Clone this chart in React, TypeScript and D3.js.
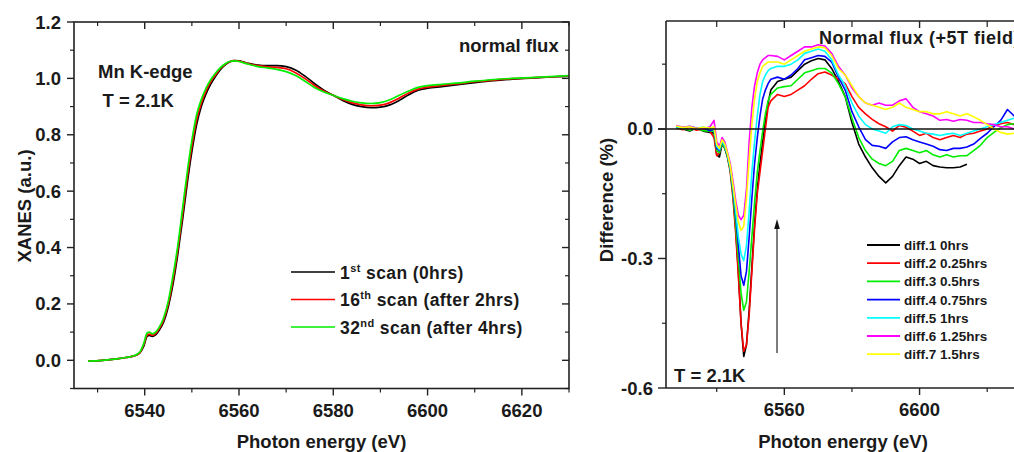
import React from "react";
import * as d3 from "d3";

const FONT = "'Liberation Sans', Arial, Helvetica, sans-serif";

// ---------------- Left panel data (XANES) ----------------
const energyL = [6528, 6531, 6534, 6536, 6538, 6539, 6539.8, 6540.5, 6541, 6541.6, 6542.3, 6543, 6544, 6545, 6546, 6547, 6548, 6549, 6550, 6551, 6552, 6553, 6554, 6555, 6556, 6557, 6558, 6559, 6560, 6561, 6562, 6564, 6566, 6568, 6570, 6572, 6574, 6576, 6578, 6580, 6582, 6584, 6586, 6588, 6590, 6592, 6594, 6596, 6598, 6600, 6603, 6606, 6610, 6614, 6618, 6622, 6626, 6630];
const scan1 = [-0.003, 0.0, 0.005, 0.01, 0.017, 0.027, 0.05, 0.085, 0.088, 0.085, 0.09, 0.105, 0.135, 0.19, 0.27, 0.375, 0.495, 0.625, 0.74, 0.835, 0.9, 0.945, 0.98, 1.007, 1.03, 1.047, 1.058, 1.063, 1.062, 1.058, 1.053, 1.047, 1.045, 1.045, 1.042, 1.03, 1.008, 0.982, 0.958, 0.94, 0.922, 0.908, 0.9, 0.896, 0.898, 0.906, 0.922, 0.942, 0.958, 0.965, 0.971, 0.977, 0.985, 0.992, 0.997, 1.001, 1.005, 1.008];
const scan16 = [-0.003, 0.0, 0.005, 0.01, 0.017, 0.028, 0.055, 0.09, 0.093, 0.089, 0.095, 0.11, 0.142, 0.2, 0.285, 0.39, 0.515, 0.645, 0.76, 0.852, 0.912, 0.955, 0.988, 1.012, 1.034, 1.049, 1.059, 1.063, 1.061, 1.057, 1.052, 1.045, 1.041, 1.039, 1.034, 1.02, 0.999, 0.975, 0.955, 0.94, 0.925, 0.913, 0.906, 0.903, 0.905, 0.914, 0.93, 0.948, 0.962, 0.969, 0.975, 0.98, 0.988, 0.994, 0.999, 1.002, 1.005, 1.009];
const scan32 = [-0.003, 0.0, 0.005, 0.01, 0.018, 0.03, 0.06, 0.097, 0.1, 0.094, 0.1, 0.115, 0.15, 0.21, 0.3, 0.405, 0.535, 0.665, 0.78, 0.87, 0.925, 0.965, 0.995, 1.018, 1.037, 1.051, 1.06, 1.062, 1.06, 1.055, 1.05, 1.042, 1.037, 1.032, 1.024, 1.01, 0.99, 0.968, 0.952, 0.94, 0.928, 0.919, 0.913, 0.911, 0.914, 0.924, 0.94, 0.955, 0.968, 0.974, 0.979, 0.983, 0.99, 0.996, 1.0, 1.003, 1.006, 1.01];

const leftSeries = [
  { sup: "st", num: "1", rest: " scan (0hrs)", color: "#000000", values: scan1 },
  { sup: "th", num: "16", rest: " scan (after 2hrs)", color: "#ff0000", values: scan16 },
  { sup: "nd", num: "32", rest: " scan (after 4hrs)", color: "#00ee00", values: scan32 },
];
const leftXTicks = [6540, 6560, 6580, 6600, 6620];
const leftYTicks = [0.0, 0.2, 0.4, 0.6, 0.8, 1.0, 1.2];

// ---------------- Right panel data (difference, %) ----------------
const energyR = [6528, 6530, 6532, 6534, 6536, 6538, 6539.2, 6540, 6540.8, 6541.6, 6542.4, 6543.2, 6544, 6544.8, 6545.6, 6546.4, 6547.2, 6548, 6548.8, 6549.6, 6550.4, 6551.2, 6552, 6552.8, 6553.6, 6554.4, 6555.2, 6556, 6558, 6560, 6562, 6564, 6566, 6568, 6570, 6572, 6574, 6576, 6578, 6580, 6582, 6584, 6586, 6588, 6590, 6592, 6594, 6596, 6598, 6600, 6602, 6604, 6606, 6608, 6610, 6612, 6614, 6616, 6618, 6620, 6622, 6624, 6626, 6628, 6630];
// diff.1 ends at 6614 eV in the reference
const diff1 = [0.005, 0.0, -0.005, 0.002, -0.005, -0.008, -0.01, -0.06, -0.065, -0.035, -0.045, -0.065, -0.095, -0.15, -0.23, -0.33, -0.45, -0.527, -0.5, -0.42, -0.32, -0.22, -0.14, -0.08, -0.03, 0.02, 0.06, 0.09, 0.11, 0.115, 0.12, 0.135, 0.15, 0.158, 0.163, 0.16, 0.14, 0.11, 0.075, 0.015, -0.035, -0.065, -0.09, -0.11, -0.125, -0.11, -0.085, -0.065, -0.07, -0.08, -0.075, -0.085, -0.088, -0.09, -0.09, -0.088, -0.082];
const diff2 = [0.003, -0.002, 0.004, -0.003, 0.0, -0.006, -0.02, -0.062, -0.055, -0.034, -0.045, -0.065, -0.1, -0.16, -0.24, -0.34, -0.45, -0.515, -0.5, -0.43, -0.33, -0.23, -0.15, -0.1, -0.05, 0.0, 0.05, 0.065, 0.08, 0.075, 0.08, 0.09, 0.1, 0.115, 0.128, 0.132, 0.125, 0.115, 0.105, 0.075, 0.05, 0.035, 0.022, 0.012, 0.005, -0.005, 0.008, 0.004, -0.005, -0.015, -0.01, -0.02, -0.025, -0.02, -0.015, -0.02, -0.012, -0.01, -0.005, 0.0, 0.008, 0.012, 0.015, 0.01, 0.012];
const diff3 = [0.004, 0.001, -0.003, 0.002, -0.004, -0.005, -0.005, -0.05, -0.055, -0.033, -0.045, -0.065, -0.095, -0.15, -0.22, -0.3, -0.38, -0.42, -0.4, -0.33, -0.25, -0.17, -0.1, -0.05, -0.005, 0.035, 0.065, 0.08, 0.095, 0.098, 0.1, 0.115, 0.13, 0.135, 0.14, 0.14, 0.13, 0.105, 0.075, 0.025, -0.02, -0.05, -0.07, -0.08, -0.085, -0.075, -0.05, -0.045, -0.05, -0.055, -0.05, -0.06, -0.065, -0.06, -0.065, -0.062, -0.062, -0.05, -0.038, -0.02, -0.008, 0.003, 0.01, 0.012, 0.015];
const diff4 = [0.006, 0.002, 0.005, 0.0, 0.003, -0.004, 0.0, -0.045, -0.05, -0.03, -0.04, -0.062, -0.09, -0.14, -0.2, -0.27, -0.34, -0.362, -0.33, -0.25, -0.16, -0.08, -0.02, 0.03, 0.07, 0.09, 0.105, 0.115, 0.12, 0.115, 0.125, 0.14, 0.16, 0.165, 0.17, 0.168, 0.155, 0.12, 0.09, 0.04, 0.005, -0.025, -0.038, -0.04, -0.045, -0.03, -0.02, -0.018, -0.025, -0.03, -0.035, -0.04, -0.048, -0.05, -0.045, -0.045, -0.042, -0.035, -0.022, -0.01, 0.005, 0.02, 0.045, 0.03, 0.02];
const diff5 = [0.005, 0.003, 0.006, 0.002, 0.004, 0.0, 0.0, -0.04, -0.048, -0.028, -0.04, -0.06, -0.09, -0.135, -0.19, -0.25, -0.29, -0.305, -0.27, -0.19, -0.1, -0.03, 0.03, 0.08, 0.11, 0.125, 0.135, 0.14, 0.145, 0.145, 0.15, 0.16, 0.175, 0.18, 0.185, 0.18, 0.16, 0.125, 0.1, 0.06, 0.03, 0.01, 0.0, -0.005, -0.01, 0.005, 0.01, 0.008, 0.0, -0.005, -0.01, -0.012, -0.015, -0.012, -0.01, -0.015, -0.01, -0.005, 0.0, 0.005, 0.01, 0.015, 0.02, 0.025, 0.02];
const diff6 = [0.008, 0.004, 0.006, 0.002, 0.0, 0.005, 0.02, -0.03, -0.04, -0.02, -0.03, -0.055, -0.08, -0.12, -0.165, -0.2, -0.21, -0.2, -0.14, -0.03, 0.05, 0.1, 0.13, 0.15, 0.16, 0.165, 0.17, 0.17, 0.168, 0.16, 0.17, 0.18, 0.19, 0.19, 0.195, 0.192, 0.175, 0.145, 0.125, 0.095, 0.075, 0.06, 0.055, 0.06, 0.055, 0.055, 0.065, 0.07, 0.05, 0.04, 0.035, 0.03, 0.02, 0.022, 0.018, 0.022, 0.02, 0.015, 0.015, 0.012, 0.01, 0.005, 0.005, 0.0, 0.005];
const diff7 = [0.007, 0.003, 0.005, 0.001, 0.004, 0.002, 0.005, -0.035, -0.045, -0.025, -0.035, -0.058, -0.085, -0.13, -0.175, -0.215, -0.235, -0.225, -0.16, -0.07, 0.01, 0.07, 0.11, 0.13, 0.145, 0.15, 0.155, 0.155, 0.155, 0.15, 0.16, 0.17, 0.18, 0.185, 0.19, 0.188, 0.17, 0.14, 0.125, 0.1, 0.075, 0.06, 0.055, 0.05, 0.045, 0.05, 0.06, 0.05, 0.045, 0.04, 0.04, 0.035, 0.035, 0.04, 0.035, 0.03, 0.035, 0.028, 0.02, 0.01, 0.0, -0.008, -0.012, -0.01, -0.012];

const rightSeries = [
  { name: "diff.1 0hrs", color: "#000000", values: diff1 },
  { name: "diff.2 0.25hrs", color: "#ff0000", values: diff2 },
  { name: "diff.3 0.5hrs", color: "#00ee00", values: diff3 },
  { name: "diff.4 0.75hrs", color: "#0000ff", values: diff4 },
  { name: "diff.5 1hrs", color: "#00ffff", values: diff5 },
  { name: "diff.6 1.25hrs", color: "#ff00ff", values: diff6 },
  { name: "diff.7 1.5hrs", color: "#ffff00", values: diff7 },
];
const rightXTicks = [6560, 6600];
const rightYTicks = [0.0, -0.3, -0.6];

const fmt = (v: number) => d3.format(".1f")(v).replace("\u2212", "-");

export default function App() {
  const xL = d3.scaleLinear().domain([6525, 6630]).range([74, 569]);
  const yL = d3.scaleLinear().domain([-0.1, 1.2]).range([388.5, 22]);
  const xR = d3.scaleLinear().domain([6525, 6630]).range([666, 1021]);
  const yR = d3.scaleLinear().domain([-0.6, 0.25]).range([388, 21]);

  const lineL = (vals: number[]) =>
    d3.line<number>().x((_, i) => xL(energyL[i])).y((d) => yL(d)).curve(d3.curveMonotoneX)(vals) || "";
  const lineR = (vals: number[]) =>
    d3.line<number>().x((_, i) => xR(energyR[i])).y((d) => yR(d)).curve(d3.curveLinear)(vals) || "";

  const lMinorX = xL.ticks(10).filter((t) => !leftXTicks.includes(t));
  const lMinorY = yL.ticks(13).filter((t) => !leftYTicks.some((m) => Math.abs(m - t) < 1e-6));
  const rMinorX = [6540, 6580, 6620];
  const rMinorY = [0.15, -0.15, -0.45];

  const axisColor = "#222";
  const tickLabel = { fontFamily: FONT, fontWeight: 700, fontSize: 18.5, fill: "#1a1a1a" } as const;

  const lx0 = 74, lx1 = 569;
  const ly0 = 388.5, ly1 = 22;
  const rx0 = 666, rx1 = 1021, ry0 = 388, ry1 = 21;

  return (
    <svg width={1014} height={452} style={{ position: "absolute", left: 0, top: 0, background: "#fff" }}>
      <defs>
        <clipPath id="clipR">
          <rect x={rx0} y={ry1} width={rx1 - rx0} height={ry0 - ry1} />
        </clipPath>
        <clipPath id="clipL">
          <rect x={lx0} y={ly1} width={lx1 - lx0} height={ly0 - ly1} />
        </clipPath>
      </defs>
      <rect x={0} y={0} width={1014} height={452} fill="#fff" />

      {/* ============ LEFT PANEL ============ */}
      <g clipPath="url(#clipL)">
        {leftSeries.map((s) => (
          <path key={s.color} d={lineL(s.values)} fill="none" stroke={s.color} strokeWidth={1.7} />
        ))}
      </g>
      <rect x={lx0} y={ly1} width={lx1 - lx0} height={ly0 - ly1} fill="none" stroke={axisColor} strokeWidth={1.6} />
      {leftYTicks.map((t) => (
        <g key={"ly" + t}>
          <line x1={lx0 - 7} x2={lx0} y1={yL(t)} y2={yL(t)} stroke={axisColor} strokeWidth={1.4} />
          <line x1={lx1 - 7} x2={lx1} y1={yL(t)} y2={yL(t)} stroke={axisColor} strokeWidth={1.4} />
          <text x={61} y={yL(t) + 6.5} textAnchor="end" {...tickLabel}>{fmt(t)}</text>
        </g>
      ))}
      {lMinorY.map((t) => (
        <g key={"lmy" + t}>
          <line x1={lx0 - 4} x2={lx0} y1={yL(t)} y2={yL(t)} stroke={axisColor} strokeWidth={1.2} />
          <line x1={lx1 - 4} x2={lx1} y1={yL(t)} y2={yL(t)} stroke={axisColor} strokeWidth={1.2} />
        </g>
      ))}
      {leftXTicks.map((t) => (
        <g key={"lx" + t}>
          <line x1={xL(t)} x2={xL(t)} y1={ly0} y2={ly0 + 7} stroke={axisColor} strokeWidth={1.4} />
          <line x1={xL(t)} x2={xL(t)} y1={ly1} y2={ly1 + 7} stroke={axisColor} strokeWidth={1.4} />
          <text x={xL(t)} y={417} textAnchor="middle" {...tickLabel}>{t}</text>
        </g>
      ))}
      {lMinorX.map((t) => (
        <g key={"lmx" + t}>
          <line x1={xL(t)} x2={xL(t)} y1={ly0} y2={ly0 + 4} stroke={axisColor} strokeWidth={1.2} />
          <line x1={xL(t)} x2={xL(t)} y1={ly1} y2={ly1 + 4} stroke={axisColor} strokeWidth={1.2} />
        </g>
      ))}
      <text x={(lx0 + lx1) / 2} y={448} textAnchor="middle" fontFamily={FONT} fontWeight={700} fontSize={18.5} fill="#1a1a1a">
        Photon energy (eV)
      </text>
      <text transform={`translate(31,206) rotate(-90)`} textAnchor="middle" fontFamily={FONT} fontWeight={700} fontSize={18.5} fill="#1a1a1a">
        XANES (a.u.)
      </text>
      <text x={98} y={78} fontFamily={FONT} fontWeight={700} fontSize={18.5} fill="#1a1a1a">Mn K-edge</text>
      <text x={102.5} y={107} fontFamily={FONT} fontWeight={700} fontSize={18.5} fill="#1a1a1a">T = 2.1K</text>
      <text x={459} y={52} fontFamily={FONT} fontWeight={700} fontSize={18.5} fill="#1a1a1a">normal flux</text>
      {leftSeries.map((s, i) => {
        const y = 272 + i * 27.5;
        return (
          <g key={"lg" + i}>
            <line x1={291} x2={335} y1={y} y2={y} stroke={s.color} strokeWidth={1.7} />
            <text x={340} y={y + 6.5} fontFamily={FONT} fontWeight={700} fontSize={17.5} letterSpacing={0.4} fill="#1a1a1a">
              {s.num}
              <tspan fontSize={11} dy={-7}>{s.sup}</tspan>
              <tspan dy={7}>{s.rest}</tspan>
            </text>
          </g>
        );
      })}

      {/* ============ RIGHT PANEL ============ */}
      <g clipPath="url(#clipR)">
        {rightSeries.map((s) => (
          <path key={s.name} d={lineR(s.values)} fill="none" stroke={s.color} strokeWidth={1.6} strokeLinejoin="round" />
        ))}
      </g>
      <line x1={rx0 - 8} x2={1014} y1={yR(0)} y2={yR(0)} stroke="#111" strokeWidth={1.6} />
      <line x1={rx0} x2={rx0} y1={ry1} y2={ry0} stroke={axisColor} strokeWidth={1.6} />
      <line x1={rx0} x2={rx1} y1={ry1} y2={ry1} stroke={axisColor} strokeWidth={1.6} />
      <line x1={rx0} x2={rx1} y1={ry0} y2={ry0} stroke={axisColor} strokeWidth={1.6} />
      {rightYTicks.map((t) => (
        <g key={"ry" + t}>
          <line x1={rx0 - 8} x2={rx0} y1={yR(t)} y2={yR(t)} stroke={axisColor} strokeWidth={1.4} />
          <text x={653} y={yR(t) + 6.5} textAnchor="end" {...tickLabel}>{fmt(t)}</text>
        </g>
      ))}
      {rMinorY.map((t) => (
        <line key={"rmy" + t} x1={rx0 - 4} x2={rx0} y1={yR(t)} y2={yR(t)} stroke={axisColor} strokeWidth={1.2} />
      ))}
      {rightXTicks.map((t) => (
        <g key={"rx" + t}>
          <line x1={xR(t)} x2={xR(t)} y1={ry0} y2={ry0 + 7} stroke={axisColor} strokeWidth={1.4} />
          <line x1={xR(t)} x2={xR(t)} y1={ry1} y2={ry1 + 7} stroke={axisColor} strokeWidth={1.4} />
          <text x={xR(t)} y={416} textAnchor="middle" {...tickLabel}>{t}</text>
        </g>
      ))}
      {rMinorX.map((t) => (
        <g key={"rmx" + t}>
          <line x1={xR(t)} x2={xR(t)} y1={ry0} y2={ry0 + 4} stroke={axisColor} strokeWidth={1.2} />
          <line x1={xR(t)} x2={xR(t)} y1={ry1} y2={ry1 + 6} stroke={axisColor} strokeWidth={1.2} />
        </g>
      ))}
      <text x={843} y={448} textAnchor="middle" fontFamily={FONT} fontWeight={700} fontSize={18.5} fill="#1a1a1a">
        Photon energy (eV)
      </text>
      <text transform={`translate(613,200) rotate(-90)`} textAnchor="middle" fontFamily={FONT} fontWeight={700} fontSize={18.5} fill="#1a1a1a">
        Difference (%)
      </text>
      <text x={819} y={44} fontFamily={FONT} fontWeight={700} fontSize={18} letterSpacing={0.5} fill="#1a1a1a">Normal flux (+5T field)</text>
      <text x={674} y={382} fontFamily={FONT} fontWeight={700} fontSize={18.5} fill="#1a1a1a">T = 2.1K</text>
      <line x1={777} x2={777} y1={353} y2={226} stroke="#111" strokeWidth={1.1} />
      <path d="M777,219 L774.2,229 L779.8,229 Z" fill="#111" />
      {rightSeries.map((s, i) => {
        const y = 245 + i * 18.2;
        return (
          <g key={"rg" + i}>
            <line x1={867} x2={900} y1={y} y2={y} stroke={s.color} strokeWidth={1.8} />
            <text x={904} y={y + 5} fontFamily={FONT} fontWeight={700} fontSize={13.5} fill="#1a1a1a">{s.name}</text>
          </g>
        );
      })}
    </svg>
  );
}
